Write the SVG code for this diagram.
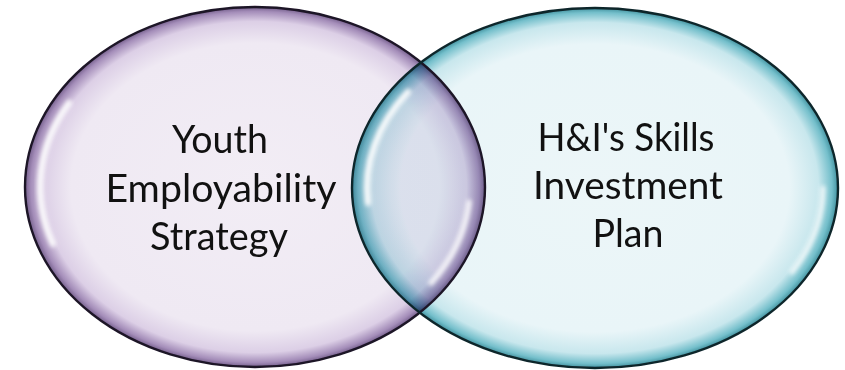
<svg xmlns="http://www.w3.org/2000/svg" width="845" height="370" viewBox="0 0 845 370">
  <style>
    .label { font-family: Lato, "Open Sans", "Liberation Sans", sans-serif; font-size: 39px; fill: #111111; text-anchor: middle; }
    .hl { fill: none; stroke: #ffffff; stroke-linecap: round; filter: url(#blur); }
    .outline { fill: none; stroke-width: 2.4; }
  </style>
  <defs>
    <radialGradient id="gradLeft" cx="50%" cy="50%" r="50%">
      <stop offset="0" stop-color="#f2edf5"/>
      <stop offset="0.8" stop-color="#efe9f3"/>
      <stop offset="0.92" stop-color="#dccfe6"/>
      <stop offset="0.975" stop-color="#a48db9"/>
      <stop offset="1" stop-color="#75608c"/>
    </radialGradient>
    <radialGradient id="gradRight" cx="50%" cy="50%" r="50%">
      <stop offset="0" stop-color="#ecf6f8"/>
      <stop offset="0.8" stop-color="#e9f5f8"/>
      <stop offset="0.92" stop-color="#c8e7ed"/>
      <stop offset="0.975" stop-color="#74bfcb"/>
      <stop offset="1" stop-color="#43929f"/>
    </radialGradient>
    <filter id="blur" x="-20%" y="-20%" width="140%" height="140%">
      <feGaussianBlur stdDeviation="2"/>
    </filter>
    <filter id="soft" x="-5%" y="-5%" width="110%" height="110%">
      <feGaussianBlur stdDeviation="0.4"/>
    </filter>
  </defs>
  <rect x="0" y="0" width="845" height="370" fill="#ffffff"/>

  <g id="node-youth-employability">
    <ellipse cx="255" cy="187" rx="230" ry="180" fill="url(#gradLeft)"/>
  </g>
  <g id="node-skills-investment" style="mix-blend-mode: multiply;">
    <ellipse cx="595" cy="188" rx="243" ry="180" fill="url(#gradRight)"/>
  </g>

  <g id="highlights">
    <path class="hl" d="M 69 103 A 215 168 0 0 0 53 244" stroke-width="6" opacity="0.95"/>
    <path class="hl" d="M 469 202 A 215 168 0 0 1 431 283" stroke-width="5" opacity="0.9"/>
    <path class="hl" d="M 408 92 A 228 168 0 0 0 368 203" stroke-width="6" opacity="0.95"/>
    <path class="hl" d="M 823 188 A 228 168 0 0 1 792 272" stroke-width="5" opacity="0.8"/>
  </g>

  <g id="outlines" filter="url(#soft)">
    <ellipse class="outline" cx="255" cy="187" rx="230" ry="180" stroke="#1e1428"/>
    <ellipse class="outline" cx="595" cy="188" rx="243" ry="180" stroke="#0f262c"/>
  </g>

  <g id="connectors"/>

  <g id="labels">
    <text class="label" x="220" y="153" textLength="96" lengthAdjust="spacingAndGlyphs">Youth</text>
    <text class="label" x="221" y="202" textLength="231" lengthAdjust="spacingAndGlyphs">Employability</text>
    <text class="label" x="219" y="250" textLength="138" lengthAdjust="spacingAndGlyphs">Strategy</text>
    <text class="label" x="626" y="151" textLength="177" lengthAdjust="spacingAndGlyphs">H&amp;I's Skills</text>
    <text class="label" x="628" y="199" textLength="190" lengthAdjust="spacingAndGlyphs">Investment</text>
    <text class="label" x="628" y="247" textLength="71" lengthAdjust="spacingAndGlyphs">Plan</text>
  </g>
</svg>
